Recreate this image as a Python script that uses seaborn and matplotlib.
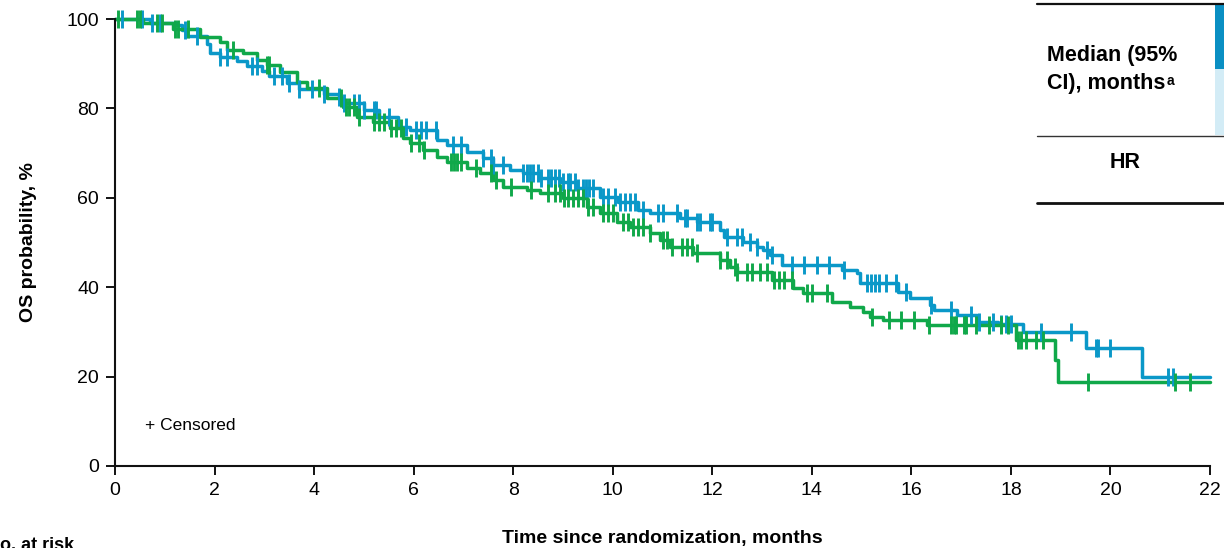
import numpy as np
import pandas as pd
import matplotlib
matplotlib.use("Agg")
import matplotlib.pyplot as plt
import seaborn as sns

# Kaplan-Meier steps (start time of each step, OS %)
blue_t = [0, 0.7, 1.25, 1.35, 1.45, 1.85, 1.9, 2.1, 2.45, 2.65, 2.95, 3.1, 3.45, 3.7,
          4.2, 4.5, 4.55, 5.0, 5.3, 5.68, 5.93, 6.47, 6.67, 7.07, 7.4, 7.6, 7.94, 8.2,
          8.54, 8.94, 9.28, 9.75, 10.1, 10.5, 10.75, 11.35, 11.69, 12.15, 12.23, 12.62,
          12.9, 13.02, 13.16, 13.4, 14.6, 14.9, 14.97, 15.73, 15.97, 16.37, 16.45,
          16.92, 17.32, 17.75, 18.25, 19.5, 20.63]
blue_s = [100, 99.2, 98.6, 97.5, 96.3, 94.5, 92.5, 91.5, 90.6, 89.5, 88.3, 87.2, 85.6, 84.3,
          83.3, 82.6, 81.2, 79.6, 78.1, 75.8, 75.2, 72.9, 71.8, 70.2, 68.9, 67.3, 66.2, 65.5,
          64.4, 63.5, 62.2, 60.2, 59.0, 57.3, 56.6, 55.5, 54.6, 52.8, 51.2, 50.1,
          49.0, 48.3, 47.2, 45.0, 43.8, 43.1, 40.9, 38.9, 37.6, 36.0, 34.9,
          33.8, 32.2, 31.8, 30.0, 26.4, 19.9]

green_t = [0, 0.56, 1.17, 1.71, 2.11, 2.25, 2.57, 2.85, 3.05, 3.31, 3.66, 3.86, 4.26,
           4.58, 4.86, 5.19, 5.53, 5.79, 5.93, 6.19, 6.47, 6.67, 7.07, 7.33, 7.6, 7.8,
           8.28, 8.54, 9.0, 9.48, 9.74, 10.08, 10.35, 10.75, 10.95, 11.15, 11.62, 12.15,
           12.35, 12.5, 13.2, 13.62, 13.82, 14.41, 14.77, 15.03, 15.17, 15.43, 16.32,
           18.1, 18.88, 18.95]
green_s = [100, 99.2, 97.8, 96.0, 94.9, 93.0, 92.4, 90.8, 89.7, 88.1, 85.9, 84.6, 82.3,
           80.3, 78.1, 77.0, 75.6, 73.4, 72.3, 70.7, 69.1, 68.0, 66.7, 65.5, 64.0, 62.4,
           61.7, 61.0, 60.0, 57.9, 56.6, 54.6, 53.5, 52.1, 50.6, 49.0, 47.7, 46.1,
           44.5, 43.4, 41.6, 39.8, 38.7, 36.7, 35.6, 34.5, 33.3, 32.7, 31.5,
           28.2, 23.7, 18.8]

end_time = 22.0

blue_cens = [0.15, 0.55, 0.75, 0.9, 1.4, 1.65, 2.1, 2.25, 2.75, 2.85, 3.2, 3.35, 3.5, 3.7,
             3.95, 4.2, 4.5, 4.6, 4.8, 4.9, 5.0, 5.2, 5.25, 5.5, 5.85, 6.05, 6.15, 6.25,
             6.45, 6.8, 6.95, 7.4, 7.55, 7.6, 7.8, 8.2, 8.27, 8.33, 8.4, 8.5, 8.55, 8.7,
             8.75, 8.85, 8.93, 9.0, 9.1, 9.15, 9.25, 9.3, 9.4, 9.47, 9.53, 9.6, 9.8, 9.9,
             10.05, 10.15, 10.25, 10.35, 10.45, 10.6, 10.9, 11.0, 11.3, 11.45, 11.5, 11.7,
             11.75, 11.95, 12.0, 12.3, 12.5, 12.6, 12.75, 12.9, 13.1, 13.2, 13.6, 13.85,
             14.1, 14.35, 14.65, 15.1, 15.18, 15.27, 15.35, 15.5, 15.7, 15.9, 16.4, 16.8,
             17.2, 17.35, 17.65, 17.8, 17.9, 18.0, 18.6, 19.2, 19.7, 19.75, 20.0, 21.15,
             21.25]
green_cens = [0.06, 0.45, 0.5, 0.85, 0.95, 1.2, 1.27, 1.47, 2.37, 3.05, 3.1, 4.1, 4.55,
              4.65, 4.7, 4.8, 4.9, 5.2, 5.3, 5.4, 5.55, 5.65, 5.75, 5.95, 6.1, 6.2, 6.75,
              6.82, 6.88, 6.95, 7.25, 7.55, 7.65, 7.95, 8.35, 8.7, 8.85, 8.95, 9.03, 9.1,
              9.2, 9.3, 9.4, 9.5, 9.6, 9.8, 9.9, 10.0, 10.2, 10.3, 10.4, 10.5, 10.6, 10.75,
              11.0, 11.1, 11.2, 11.4, 11.5, 11.6, 11.7, 12.15, 12.3, 12.45, 12.5, 12.7,
              12.8, 12.95, 13.1, 13.25, 13.35, 13.45, 13.6, 13.9, 14.0, 14.3, 15.2, 15.55,
              15.8, 16.05, 16.35, 16.8, 16.85, 16.9, 17.05, 17.1, 17.3, 17.55, 17.8, 17.95,
              18.15, 18.2, 18.3, 18.5, 18.65, 19.55, 21.3, 21.6]

x_ticks = [0, 2, 4, 6, 8, 10, 12, 14, 16, 18, 20, 22]
y_ticks = [0, 20, 40, 60, 80, 100]

blue = "#0A98C8"
green = "#10A84A"

sns.set_theme(style="ticks")
plt.rcParams["font.family"] = ["Liberation Sans", "DejaVu Sans"]
plt.rcParams["text.color"] = "black"
plt.rcParams["axes.labelcolor"] = "black"
plt.rcParams["xtick.color"] = "black"
plt.rcParams["ytick.color"] = "black"


def km_frame(t, s, cens):
    t = list(t) + [end_time]
    s = list(s) + [s[-1]]
    idx = np.searchsorted(np.array(t), np.array(cens), side="right") - 1
    steps = pd.DataFrame({"time": t, "surv": s})
    marks = pd.DataFrame({"time": cens, "surv": np.array(s)[idx]})
    return steps, marks


fig = plt.figure(figsize=(12.24, 5.48), dpi=100)
ax = fig.add_axes([115 / 1224, 1 - 466 / 548, 1095 / 1224, 447 / 548])

for t, s, c, col in [(blue_t, blue_s, blue_cens, blue), (green_t, green_s, green_cens, green)]:
    steps, marks = km_frame(t, s, c)
    sns.lineplot(data=steps, x="time", y="surv", ax=ax, color=col, lw=2.5,
                 drawstyle="steps-post", estimator=None, sort=False, clip_on=False)
    sns.scatterplot(data=marks, x="time", y="surv", ax=ax, color=col, marker="|",
                    s=170, linewidth=2.1, clip_on=False, zorder=3)

ax.set_xlim(0, 22)
ax.set_ylim(0, 100)
ax.set_xticks(x_ticks)
ax.set_yticks(y_ticks)
ax.tick_params(axis="both", labelsize=14, length=6.5, width=1.4, color="#111111", pad=5)
for side in ["left", "bottom"]:
    ax.spines[side].set_linewidth(1.5)
    ax.spines[side].set_color("#111111")
sns.despine(ax=ax)

ax.set_xlabel("Time since randomization, months", fontsize=14, weight="bold", labelpad=22)
ax.set_ylabel("OS probability, %", fontsize=14, weight="bold", labelpad=21)
ax.text(0.6, 9, "+ Censored", fontsize=12.5, va="center", ha="left")

# partial results table in the top right corner
fig.add_artist(plt.Line2D([1037 / 1224, 1], [1 - 3.5 / 548] * 2, color="#111111", lw=1.6))
fig.add_artist(plt.Line2D([1037 / 1224, 1], [1 - 135.5 / 548] * 2, color="#333333", lw=1.0))
fig.add_artist(plt.Line2D([1037 / 1224, 1], [1 - 203 / 548] * 2, color="#111111", lw=2.0))
fig.add_artist(plt.Rectangle((1215 / 1224, 1 - 69 / 548), 9 / 1224, 65 / 548,
                             color="#0A8FC3", lw=0))
fig.add_artist(plt.Rectangle((1215 / 1224, 1 - 135 / 548), 9 / 1224, 66 / 548,
                             color="#D3ECF6", lw=0))
fig.text(1047 / 1224, 1 - 55 / 548, "Median (95%", fontsize=15.5, weight="bold", va="center")
t2 = fig.text(1047 / 1224, 1 - 83 / 548, "CI), months", fontsize=15.5, weight="bold",
              va="center")
fig.text(1047 / 1224, 1 - 83 / 548, "", fontsize=1)
ax.annotate("a", xy=(1.0, 0.95), xycoords=t2, xytext=(1, 0), textcoords="offset points",
            fontsize=10, weight="bold", va="top", ha="left", annotation_clip=False)
fig.text(1125 / 1224, 1 - 163 / 548, "HR", fontsize=15.5, weight="bold", va="center",
         ha="center")

fig.text(-13 / 1224, 1 - 537 / 548, "No. at risk", fontsize=13, weight="bold", va="top")

fig.savefig("out.png", dpi=100)
